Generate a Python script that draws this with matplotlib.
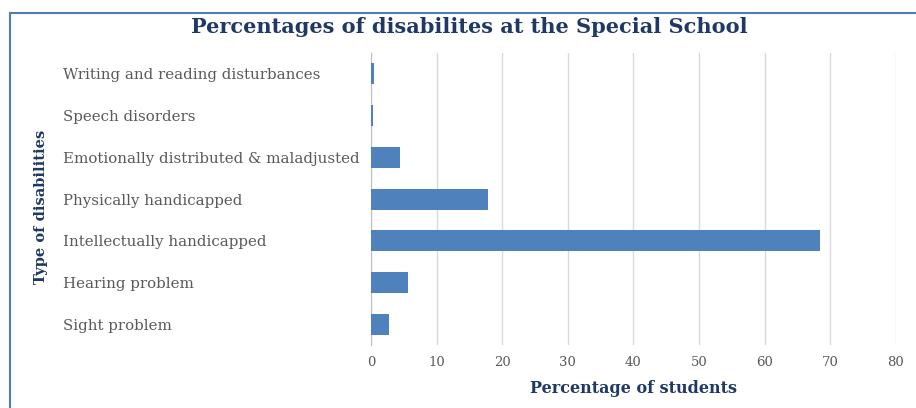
import matplotlib.pyplot as plt
from matplotlib.patches import Rectangle

plt.rcParams['font.family'] = 'DejaVu Serif'

# categories listed bottom to top, as drawn
categories = ['Sight problem', 'Hearing problem', 'Intellectually handicapped',
              'Physically handicapped', 'Emotionally distributed & maladjusted',
              'Speech disorders', 'Writing and reading disturbances']
percentages = [2.7, 5.6, 68.4, 17.8, 4.4, 0.3, 0.45]
x_ticks = [0, 10, 20, 30, 40, 50, 60, 70, 80]

title_color = '#1f3864'
text_color = '#595959'
bar_color = '#4f81bd'

fig = plt.figure(figsize=(9.16, 4.08), dpi=100)
ax = fig.add_axes([0.405, 0.154, 0.573, 0.716])

ax.barh(range(len(categories)), percentages, height=0.5, color=bar_color, zorder=3)
ax.set_ylim(-0.5, len(categories) - 0.5)
ax.set_xlim(0, 80)
ax.set_xticks(x_ticks)
ax.set_yticks(range(len(categories)))
ax.set_yticklabels(categories, ha='left')
ax.tick_params(axis='y', length=0, pad=222, labelsize=10.8, labelcolor=text_color)
ax.tick_params(axis='x', length=0, pad=8, labelsize=9.5, labelcolor=text_color)
ax.grid(axis='x', color='#d9d9d9', linewidth=1, zorder=0)
for s in ['top', 'right', 'bottom']:
    ax.spines[s].set_visible(False)
ax.spines['left'].set_color('#bfbfbf')

ax.set_xlabel('Percentage of students', fontsize=11.5, fontweight='bold',
              color=title_color, labelpad=8)
fig.text(0.045, 0.493, 'Type of disabilities', rotation=90, ha='center', va='center',
         fontsize=10.5, fontweight='bold', color=title_color)
fig.text(0.512, 0.935, 'Percentages of disabilites at the Special School', ha='center',
         va='center', fontsize=15, fontweight='bold', color=title_color)

# outer frame of the chart box
fig.patches.append(Rectangle((0.011, -0.01), 1.0, 0.977, transform=fig.transFigure,
                             fill=False, edgecolor='#4a7ebb', linewidth=1.5))

plt.savefig('out.png', dpi=100)
